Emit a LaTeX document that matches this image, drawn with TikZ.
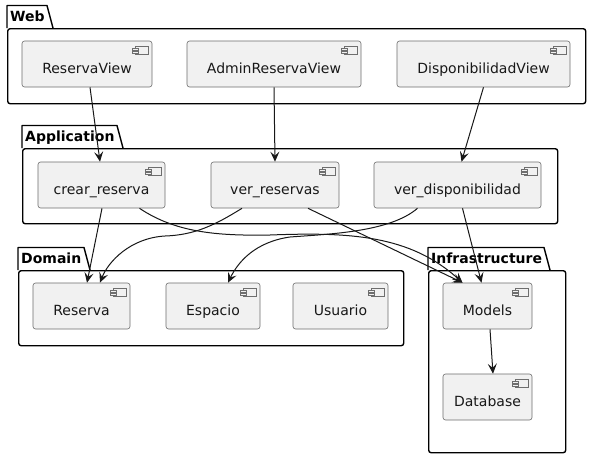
\documentclass[tikz,border=0pt]{standalone}
\usepackage{fontspec}
\setmainfont{DejaVu Sans}
\usetikzlibrary{arrows.meta}
\definecolor{compfill}{HTML}{F1F1F1}
\definecolor{ln}{HTML}{181818}
\definecolor{compline}{HTML}{6E6E6E}
\tikzset{
  comp/.style={draw=compline, line width=0.6pt, fill=compfill, rounded corners=2.5pt,
    minimum height=46pt, inner sep=0pt, text height=19pt, text depth=1pt,
    font=\fontsize{14}{16}\selectfont, text=ln,
    path picture={
      \draw[compline, line width=0.6pt, sharp corners, fill=compfill]
        ([shift={(-17pt,-5pt)}]path picture bounding box.north east) rectangle
        ([shift={(-4pt,-13pt)}]path picture bounding box.north east);
      \draw[compline, line width=0.6pt, sharp corners, fill=compfill]
        ([shift={(-20pt,-6.8pt)}]path picture bounding box.north east) rectangle
        ([shift={(-14pt,-8.8pt)}]path picture bounding box.north east);
      \draw[compline, line width=0.6pt, sharp corners, fill=compfill]
        ([shift={(-20pt,-9.8pt)}]path picture bounding box.north east) rectangle
        ([shift={(-14pt,-11.8pt)}]path picture bounding box.north east);
    }},
  pkgbody/.style={draw=black, line width=1.4pt, rounded corners=2.5pt, inner sep=0pt, anchor=north west},
  pkgtabline/.style={draw=black, line width=1.4pt, line join=round},
  pkglabel/.style={anchor=base west, inner sep=0pt, font=\fontsize{14}{16}\selectfont\bfseries},
  conn/.style={draw=ln, line width=1pt, -{Stealth[length=10pt,width=9pt,inset=4pt]}},
}
\newcommand\mkpkg[7]{%
  \node[pkgbody, minimum width=#4pt, minimum height=#5pt] (#1) at (#2,#3) {};
  \draw[pkgtabline] (#1.north west) -- ++(0,-22.5) -- ++(#7,0) -- ([xshift=#7pt+6pt]#1.north west);
  \node[pkglabel] (#1-lbl) at ([shift={(3pt,6.5pt)}]#1.north west) {#6};
}
\begin{document}
\begin{tikzpicture}[x=1pt,y=-1pt]
\useasboundingbox[fill=white] (0,0) rectangle (592,458);
% packages
\mkpkg{web}{7}{28}{578}{75}{Web}{40}
\mkpkg{app}{22}{148}{535}{75}{Application}{95}
\mkpkg{dom}{18}{270}{385}{75}{Domain}{66}
\mkpkg{inf}{428}{270}{137}{182}{Infrastructure}{116}
% components
\node[comp, minimum width=130pt] (rv)  at (87,64)    {ReservaView};
\node[comp, minimum width=174pt] (arv) at (274,64)   {AdminReservaView};
\node[comp, minimum width=173pt] (dv)  at (483.5,64) {DisponibilidadView};
\node[comp, minimum width=127pt] (cr)  at (101.5,185) {crear\_reserva};
\node[comp, minimum width=128pt] (vr)  at (275,185)  {ver\_reservas};
\node[comp, minimum width=167pt] (vd)  at (457.5,185) {ver\_disponibilidad};
\node[comp, minimum width=97pt]  (re)  at (81.5,306) {Reserva};
\node[comp, minimum width=94pt]  (es)  at (213,306)  {Espacio};
\node[comp, minimum width=95pt]  (us)  at (340.5,306) {Usuario};
\node[comp, minimum width=89pt]  (mo)  at (487.5,306) {Models};
\node[comp, minimum width=89pt]  (db)  at (487.5,397) {Database};
% connectors
\draw[conn] ([xshift=3pt]rv.south) -- ([xshift=-1.5pt]cr.north);
\draw[conn] (arv.south) -- ([xshift=0pt]vr.north);
\draw[conn] (dv.south) -- ([xshift=4pt]vd.north);
\draw[conn] ([xshift=0.5pt]cr.south) -- ([xshift=5.5pt]re.north);
\draw[conn] ([xshift=38pt]cr.south) .. controls (175,232) and (215,236) .. (270,235)
            .. controls (350,232) and (410,235) .. ([xshift=-25pt]mo.north);
\draw[conn] ([xshift=-33pt]vr.south) .. controls (215,225) and (195,235) .. (165,236)
            .. controls (130,238) and (108,262) .. ([xshift=18.5pt]re.north);
\draw[conn] ([xshift=33pt]vr.south) -- ([xshift=-25pt]mo.north);
\draw[conn] ([xshift=-40pt]vd.south) .. controls (390,232) and (330,234) .. (290,237)
            .. controls (255,242) and (238,262) .. ([xshift=15pt]es.north);
\draw[conn] ([xshift=5pt]vd.south) -- ([xshift=-6pt]mo.north);
\draw[conn] ([xshift=2.5pt]mo.south) -- ([xshift=5.5pt]db.north);
\end{tikzpicture}
\end{document}
